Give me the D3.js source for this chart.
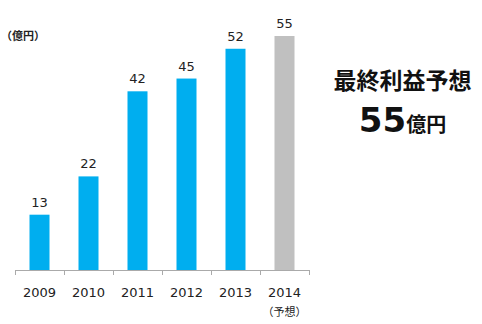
<!DOCTYPE html>
<html>
<head>
<meta charset="utf-8">
<script src="https://cdn.jsdelivr.net/npm/d3@7"></script>
<style>
  body { margin: 0; background: #fff; }
  text { font-family: "Noto Sans CJK JP", "Noto Sans", sans-serif; }
  text.num { font-family: "DejaVu Sans", "Noto Sans CJK JP", sans-serif; }
</style>
</head>
<body>
<svg id="chart" width="482" height="324"></svg>
<script>
// data
const years = ["2009", "2010", "2011", "2012", "2013", "2014"];
const profits = [13, 22, 42, 45, 52, 55];
const forecastYear = "2014";
const unitLabel = "（億円）";
const forecastNote = "（予想）";
const headline = "最終利益予想";
const headlineValue = "55";
const headlineUnit = "億円";

const svg = d3.select("#chart");

const x = d3.scaleBand().domain(years).range([15, 309]).padding(0);
const y = d3.scaleLinear().domain([0, 55]).range([270, 36]);
const barW = 20;

// bars
svg.selectAll(".bar")
    .data(years)
    .enter()
    .append("rect")
    .attr("class", "bar")
    .attr("x", d => x(d) + (x.bandwidth() - barW) / 2)
    .attr("width", barW)
    .attr("y", (d, i) => y(profits[i]))
    .attr("height", (d, i) => y(0) - y(profits[i]))
    .attr("fill", d => d === forecastYear ? "#c0c0c0" : "#00aeef");

// value labels
svg.selectAll(".val")
    .data(years)
    .enter()
    .append("text")
    .attr("class", "val num")
    .attr("x", d => x(d) + x.bandwidth() / 2)
    .attr("y", (d, i) => y(profits[i]) - 8)
    .attr("text-anchor", "middle")
    .attr("font-size", "13px")
    .attr("fill", "#222")
    .text((d, i) => profits[i]);

// axis line + ticks at band edges
const axis = svg.append("g").attr("stroke", "#aaaaaa").attr("stroke-width", 1);
axis.append("line")
    .attr("x1", x.range()[0]).attr("x2", x.range()[1])
    .attr("y1", y(0) + 0.5).attr("y2", y(0) + 0.5);
const edges = years.map(d => x(d)).concat([x.range()[1]]);
axis.selectAll(".tick")
    .data(edges)
    .enter()
    .append("line")
    .attr("x1", d => Math.round(d) + 0.5).attr("x2", d => Math.round(d) + 0.5)
    .attr("y1", y(0)).attr("y2", y(0) + 5);

// year labels
svg.selectAll(".yr")
    .data(years)
    .enter()
    .append("text")
    .attr("class", "yr num")
    .attr("x", d => x(d) + x.bandwidth() / 2)
    .attr("y", 297)
    .attr("text-anchor", "middle")
    .attr("font-size", "13px")
    .attr("fill", "#222")
    .text(d => d);

svg.append("text")
    .attr("x", x(forecastYear) + x.bandwidth() / 2)
    .attr("y", 316)
    .attr("text-anchor", "middle")
    .attr("font-size", "11px")
    .attr("fill", "#222")
    .text(forecastNote);

// unit label
svg.append("text")
    .attr("x", 1)
    .attr("y", 40)
    .attr("font-size", "11px")
    .attr("font-weight", "bold")
    .attr("fill", "#222")
    .text(unitLabel);

// headline on the right
svg.append("text")
    .attr("x", 402.5)
    .attr("y", 89)
    .attr("text-anchor", "middle")
    .attr("font-size", "23px")
    .attr("font-weight", "bold")
    .attr("fill", "#111")
    .text(headline);

const big = svg.append("text")
    .attr("x", 402.5)
    .attr("y", 132)
    .attr("text-anchor", "middle")
    .attr("fill", "#111");
big.append("tspan")
    .attr("font-family", "DejaVu Sans")
    .attr("font-size", "34px")
    .attr("font-weight", "bold")
    .text(headlineValue);
big.append("tspan")
    .attr("font-size", "20px")
    .attr("font-weight", "bold")
    .text(headlineUnit);
</script>
</body>
</html>
